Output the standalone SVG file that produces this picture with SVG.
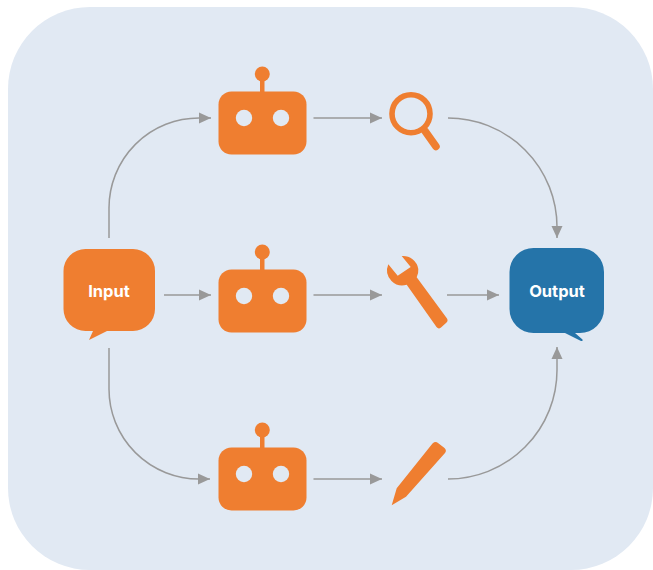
<svg xmlns="http://www.w3.org/2000/svg" width="653" height="570" viewBox="0 0 653 570">
<defs>
<marker id="arrow" markerUnits="userSpaceOnUse" markerWidth="12" markerHeight="12" refX="12" refY="6" orient="auto"><path d="M0 0.5L12 6L0 11.5Z" fill="#999999"/></marker>
<g id="bot">
<rect x="218.500" y="91.500" width="88" height="63" rx="13" class="o"/>
<rect x="260" y="76" width="4.500" height="17" class="o"/>
<circle cx="262.300" cy="74" r="7.500" class="o"/>
<circle cx="244" cy="118" r="8.200" class="eye"/>
<circle cx="281" cy="118" r="8.200" class="eye"/>
</g>
</defs>
<style>
.o{fill:#ef7e30}
.eye{fill:#e1e9f3}
.line{fill:none;stroke:#999999;stroke-width:1.5;marker-end:url(#arrow)}
.label{font-family:"Inter","Liberation Sans",sans-serif;font-weight:700;font-size:16.5px;fill:#ffffff;text-anchor:middle}
</style>
<rect id="background" x="8" y="7" width="645" height="563" rx="82" fill="#e1e9f3"/>
<g id="connectors">
<path class="line" d="M109 238V208A90 90 0 0 1 199 118H211"/>
<path class="line" d="M109 348V389A90 90 0 0 0 199 479H210"/>
<path class="line" d="M164 295H211"/>
<path class="line" d="M313.500 118H382"/>
<path class="line" d="M313.500 295H382"/>
<path class="line" d="M313.500 479H382"/>
<path class="line" d="M447 295H499"/>
<path class="line" d="M448 118A109 109 0 0 1 557 227V238"/>
<path class="line" d="M448 479A109 109 0 0 0 557 370V347"/>
</g>
<g id="input">
<path class="o" d="M85.500 249H133A22 22 0 0 1 155 271V309A22 22 0 0 1 133 331H107L89 340L93 331H85.500A22 22 0 0 1 63.500 309V271A22 22 0 0 1 85.500 249Z"/>
<text class="label" x="109" y="297">Input</text>
</g>
<g id="agent-top"><use href="#bot"/></g>
<g id="agent-middle"><use href="#bot" y="178"/></g>
<g id="agent-bottom"><use href="#bot" y="356"/></g>
<g id="search">
<circle cx="411" cy="113.700" r="19" fill="none" stroke="#ef7e30" stroke-width="5.600"/>
<path d="M425 131L436 146.500" fill="none" stroke="#ef7e30" stroke-width="7.500" stroke-linecap="round"/>
</g>
<g id="wrench">
<path class="o" d="M388.300 264.300L397.700 275.700L410.700 267L401.700 256A15.500 15.500 0 0 1 418.300 269A15.500 15.500 0 0 1 416.700 277.300L447 318.500Q448.500 321 446 323L441 327.500Q438.500 329.500 436.500 327L406.700 284.800A15.500 15.500 0 0 1 391.500 281A15.500 15.500 0 0 1 388.300 264.300Z"/>
</g>
<g id="pencil">
<path class="o" d="M432.500 443.500Q435.500 441 438 443L444.500 448Q447 450.500 445 453L406 496.700L391.700 505.300L396.700 488.300Z"/>
</g>
<g id="output">
<path fill="#2574a9" d="M533.500 248H580A24 24 0 0 1 604 272V309A24 24 0 0 1 580 333H575L582.500 339.500Q583 341.500 581 341L565 333H533.500A24 24 0 0 1 509.500 309V272A24 24 0 0 1 533.500 248Z"/>
<text class="label" x="557" y="297">Output</text>
</g>
</svg>
